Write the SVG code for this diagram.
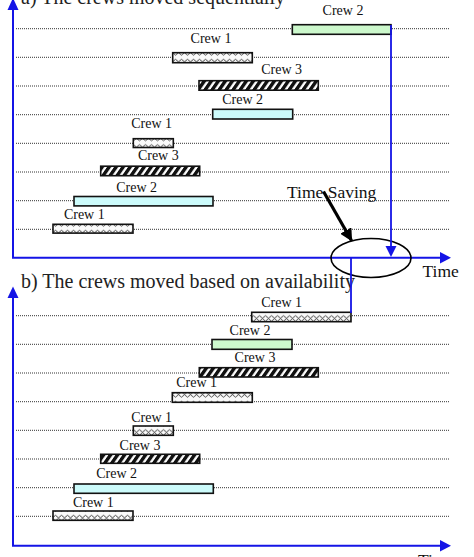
<svg xmlns="http://www.w3.org/2000/svg" width="474" height="557" viewBox="0 0 474 557">
<style>
.lbl{font-family:"Liberation Serif","Times New Roman",serif;font-size:14px;fill:#111;text-anchor:middle}
.ttl{font-family:"Liberation Serif","Times New Roman",serif;font-size:20px;fill:#222}
.tm{font-family:"Liberation Serif","Times New Roman",serif;font-size:17.5px;fill:#111}
.dot{stroke:#333;stroke-width:1;stroke-dasharray:1 1;fill:none}
.axis{stroke:#1414e6;stroke-width:2;fill:none}
.bar{stroke:#111;stroke-width:1.6}
.green{fill:#ccf8cc}
.cyan{fill:#ccfbfb}
.wave{fill:url(#wave)}
.hatch{fill:url(#hatch)}
.blue{stroke:#1414e6;stroke-width:1.8;fill:none}
</style>
<defs>
<pattern id="wave" patternUnits="userSpaceOnUse" width="6" height="9.5">
<rect width="6" height="9.5" fill="#fafafa"/>
<path d="M0,3.5 Q1.5,1 3,3.5 T6,3.5" stroke="#222" stroke-width="0.9" fill="none"/>
<path d="M0,6.5 Q1.5,9 3,6.5 T6,6.5" stroke="#333" stroke-width="0.9" fill="none"/>
</pattern>
<pattern id="hatch" patternUnits="userSpaceOnUse" width="7" height="10" patternTransform="skewX(-35)">
<rect width="7" height="10" fill="#fff"/>
<rect width="4.2" height="10" fill="#111"/>
</pattern>
<marker id="ak" viewBox="0 0 10 10" refX="9" refY="5" markerWidth="4" markerHeight="4" orient="auto">
<path d="M0,0 L10,5 L0,10 Z" fill="#000"/>
</marker>
</defs>
<rect width="474" height="557" fill="#fff"/>

<!-- Titles -->
<text class="ttl" x="21" y="4">a) The crews moved sequentially</text>
<text class="ttl" x="21" y="288.3">b) The crews moved based on availability</text>
<text class="tm" x="422.5" y="276.7">Time</text>
<text class="tm" x="418" y="566">Time</text>

<!-- Grid lines -->
<g id="grid">
<line class="dot" x1="16" y1="28.7" x2="450" y2="28.7"/>
<line class="dot" x1="16" y1="57.3" x2="450" y2="57.3"/>
<line class="dot" x1="16" y1="86" x2="450" y2="86"/>
<line class="dot" x1="16" y1="114.7" x2="450" y2="114.7"/>
<line class="dot" x1="16" y1="143.3" x2="450" y2="143.3"/>
<line class="dot" x1="16" y1="172" x2="450" y2="172"/>
<line class="dot" x1="16" y1="200.7" x2="450" y2="200.7"/>
<line class="dot" x1="16" y1="229.3" x2="450" y2="229.3"/>
<line class="dot" x1="16" y1="315.7" x2="450" y2="315.7"/>
<line class="dot" x1="16" y1="344.3" x2="450" y2="344.3"/>
<line class="dot" x1="16" y1="373" x2="450" y2="373"/>
<line class="dot" x1="16" y1="401.7" x2="450" y2="401.7"/>
<line class="dot" x1="16" y1="430.3" x2="450" y2="430.3"/>
<line class="dot" x1="16" y1="459" x2="450" y2="459"/>
<line class="dot" x1="16" y1="487.7" x2="450" y2="487.7"/>
<line class="dot" x1="16" y1="516.3" x2="450" y2="516.3"/>
</g>

<!-- Axes -->
<g id="axes">
<polyline class="axis" points="13,-10 13,257.7 440,257.7"/>
<path d="M440,252 L451,257.7 L440,263.4 Z" fill="#1414e6"/>
<path d="M7.5,10 L13,-2 L18.5,10 Z" fill="#1414e6"/>
<polyline class="axis" points="13,298 13,545.7 440,545.7"/>
<path d="M440,540 L451,545.7 L440,551.4 Z" fill="#1414e6"/>
<path d="M7.5,298 L13,286.5 L18.5,298 Z" fill="#1414e6"/>
</g>

<!-- Top chart bars -->
<g id="a-crew2-top"><rect class="bar green" x="292.3" y="24.7" width="98.7" height="9.6"/><text class="lbl" x="343" y="15">Crew 2</text></g>
<g id="a-crew1-7"><rect class="bar wave" x="172.7" y="52.7" width="79.6" height="10"/><text class="lbl" x="211" y="42.7">Crew 1</text></g>
<g id="a-crew3-6"><rect class="bar hatch" x="199" y="80.7" width="119.3" height="9.5"/><text class="lbl" x="281.7" y="74">Crew 3</text></g>
<g id="a-crew2-5"><rect class="bar cyan" x="212.7" y="109.3" width="80" height="9.7"/><text class="lbl" x="242.7" y="103.7">Crew 2</text></g>
<g id="a-crew1-4"><rect class="bar wave" x="133.3" y="138.7" width="40" height="8.8"/><text class="lbl" x="151.7" y="127.7">Crew 1</text></g>
<g id="a-crew3-3"><rect class="bar hatch" x="100.7" y="166.2" width="99" height="9.5"/><text class="lbl" x="158.3" y="160">Crew 3</text></g>
<g id="a-crew2-2"><rect class="bar cyan" x="74" y="196.5" width="139" height="9.4"/><text class="lbl" x="136.7" y="191.7">Crew 2</text></g>
<g id="a-crew1-1"><rect class="bar wave" x="53" y="224.3" width="80" height="8.8"/><text class="lbl" x="84.3" y="219.3">Crew 1</text></g>

<!-- Bottom chart bars -->
<g id="b-crew1-top"><rect class="bar wave" x="251.7" y="312.3" width="99.3" height="9.4"/><text class="lbl" x="281.7" y="307.3">Crew 1</text></g>
<g id="b-crew2-7"><rect class="bar green" x="212" y="339.5" width="80" height="9.8"/><text class="lbl" x="250" y="335">Crew 2</text></g>
<g id="b-crew3-6"><rect class="bar hatch" x="199.3" y="367.7" width="119" height="9.3"/><text class="lbl" x="255" y="361.7">Crew 3</text></g>
<g id="b-crew1-5"><rect class="bar wave" x="172.3" y="392.7" width="80" height="9.6"/><text class="lbl" x="196.7" y="386.7">Crew 1</text></g>
<g id="b-crew1-4"><rect class="bar wave" x="133.3" y="426" width="40" height="9.3"/><text class="lbl" x="151.7" y="421.7">Crew 1</text></g>
<g id="b-crew3-3"><rect class="bar hatch" x="100.7" y="454.3" width="99" height="9"/><text class="lbl" x="140" y="450">Crew 3</text></g>
<g id="b-crew2-2"><rect class="bar cyan" x="74" y="484" width="139.3" height="9.3"/><text class="lbl" x="116.7" y="477.7">Crew 2</text></g>
<g id="b-crew1-1"><rect class="bar wave" x="53" y="511" width="80" height="9.3"/><text class="lbl" x="93.3" y="506.7">Crew 1</text></g>

<!-- Time saving node -->
<g id="time-saving">
<ellipse cx="371" cy="258" rx="40" ry="19.5" fill="none" stroke="#000" stroke-width="1.6"/>
<text class="tm" x="287" y="197.7">Time Saving</text>
</g>

<!-- Connectors -->
<g id="connectors">
<line class="blue" x1="391" y1="25" x2="391" y2="247"/>
<path d="M385.5,246 L391,257 L396.5,246 Z" fill="#1414e6"/>
<line class="blue" x1="351" y1="258" x2="351" y2="313"/>
<line x1="323.5" y1="191.5" x2="351.5" y2="240.5" stroke="#000" stroke-width="3.2" marker-end="url(#ak)"/>
</g>
</svg>
